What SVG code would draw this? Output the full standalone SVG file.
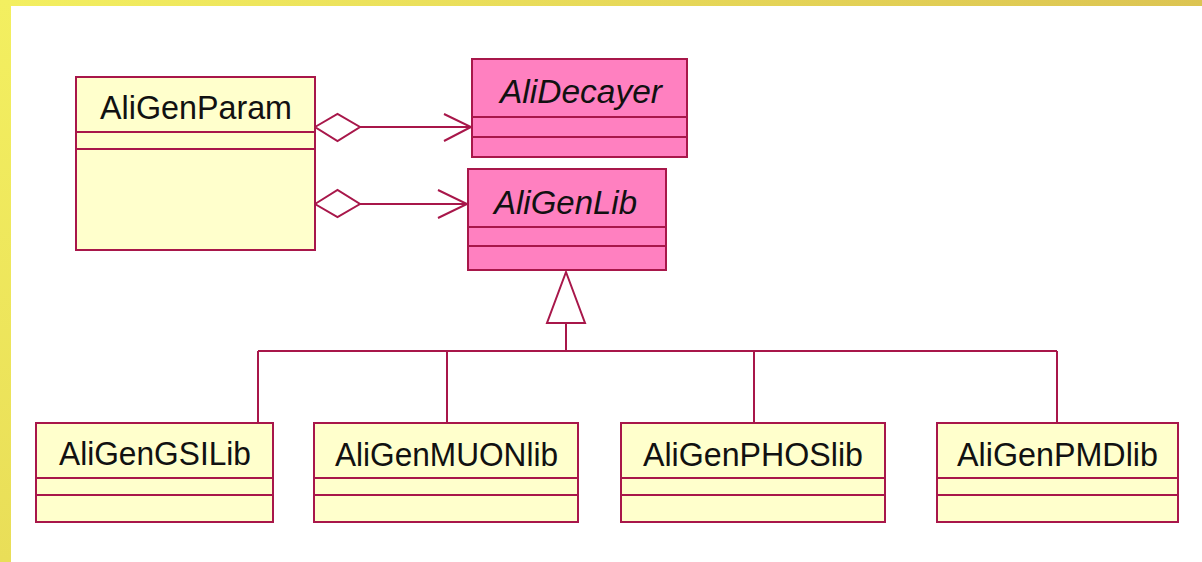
<svg xmlns="http://www.w3.org/2000/svg" width="1202" height="562" viewBox="0 0 1202 562">
<defs>
<linearGradient id="topband" x1="0" y1="0" x2="1" y2="0">
<stop offset="0" stop-color="#f3ef60"/>
<stop offset="1" stop-color="#dcc452"/>
</linearGradient>
<linearGradient id="leftband" x1="0" y1="0" x2="0" y2="1">
<stop offset="0" stop-color="#f3ef60"/>
<stop offset="1" stop-color="#e9de58"/>
</linearGradient>
</defs>
<style>
.cls{fill:#ffffcc;stroke:#a8174a;stroke-width:2}
.abs{fill:#ff80c0;stroke:#a8174a;stroke-width:2}
.div{stroke:#a8174a;stroke-width:2}
.lbl{font-family:"Liberation Sans",Arial,sans-serif;font-size:33px;fill:#111}
.it{font-style:italic}
.ln{fill:none;stroke:#a8174a;stroke-width:2}
.dia{fill:#ffffff;stroke:#a8174a;stroke-width:2}
</style>
<rect x="0" y="0" width="1202" height="562" fill="#ffffff"/>
<rect x="0" y="0" width="1202" height="6" fill="url(#topband)"/>
<rect x="0" y="0" width="11" height="562" fill="url(#leftband)"/>

<g id="connectors">
<polygon class="dia" points="315,127 337.5,114 360,127 337.5,141"/>
<line class="ln" x1="360" y1="127" x2="471" y2="127"/>
<polyline class="ln" points="444,114 471,127 444,141"/>
<polygon class="dia" points="315,204 337.5,190 360,204 337.5,217"/>
<line class="ln" x1="360" y1="204" x2="467" y2="204"/>
<polyline class="ln" points="438,190 467,204 438,218"/>
<polygon class="dia" points="566,272 547,323 585,323"/>
<line class="ln" x1="566" y1="323" x2="566" y2="351"/>
<line class="ln" x1="258" y1="351" x2="1057" y2="351"/>
<line class="ln" x1="258" y1="351" x2="258" y2="423"/>
<line class="ln" x1="447" y1="351" x2="447" y2="423"/>
<line class="ln" x1="754" y1="351" x2="754" y2="423"/>
<line class="ln" x1="1057" y1="351" x2="1057" y2="423"/>
</g>

<g id="AliGenParam">
<rect class="cls" x="76" y="77" width="239" height="173"/>
<line class="div" x1="76" y1="132" x2="315" y2="132"/>
<line class="div" x1="76" y1="149" x2="315" y2="149"/>
<text class="lbl" x="100" y="119" textLength="192" lengthAdjust="spacingAndGlyphs">AliGenParam</text>
</g>

<g id="AliDecayer">
<rect class="abs" x="472" y="59" width="215" height="98"/>
<line class="div" x1="472" y1="117" x2="687" y2="117"/>
<line class="div" x1="472" y1="137" x2="687" y2="137"/>
<text class="lbl it" x="500" y="103" textLength="162" lengthAdjust="spacingAndGlyphs">AliDecayer</text>
</g>

<g id="AliGenLib">
<rect class="abs" x="468" y="169" width="198" height="101"/>
<line class="div" x1="468" y1="227" x2="666" y2="227"/>
<line class="div" x1="468" y1="246" x2="666" y2="246"/>
<text class="lbl it" x="494" y="214" textLength="143" lengthAdjust="spacingAndGlyphs">AliGenLib</text>
</g>

<g id="AliGenGSILib">
<rect class="cls" x="36" y="423" width="237" height="99"/>
<line class="div" x1="36" y1="478" x2="273" y2="478"/>
<line class="div" x1="36" y1="495" x2="273" y2="495"/>
<text class="lbl" x="59" y="465" textLength="192" lengthAdjust="spacingAndGlyphs">AliGenGSILib</text>
</g>

<g id="AliGenMUONlib">
<rect class="cls" x="314" y="423" width="264" height="99"/>
<line class="div" x1="314" y1="478" x2="578" y2="478"/>
<line class="div" x1="314" y1="495" x2="578" y2="495"/>
<text class="lbl" x="335" y="466" textLength="223" lengthAdjust="spacingAndGlyphs">AliGenMUONlib</text>
</g>

<g id="AliGenPHOSlib">
<rect class="cls" x="621" y="423" width="264" height="99"/>
<line class="div" x1="621" y1="478" x2="885" y2="478"/>
<line class="div" x1="621" y1="495" x2="885" y2="495"/>
<text class="lbl" x="643" y="466" textLength="220" lengthAdjust="spacingAndGlyphs">AliGenPHOSlib</text>
</g>

<g id="AliGenPMDlib">
<rect class="cls" x="937" y="423" width="241" height="99"/>
<line class="div" x1="937" y1="478" x2="1178" y2="478"/>
<line class="div" x1="937" y1="495" x2="1178" y2="495"/>
<text class="lbl" x="957" y="466" textLength="201" lengthAdjust="spacingAndGlyphs">AliGenPMDlib</text>
</g>
</svg>
